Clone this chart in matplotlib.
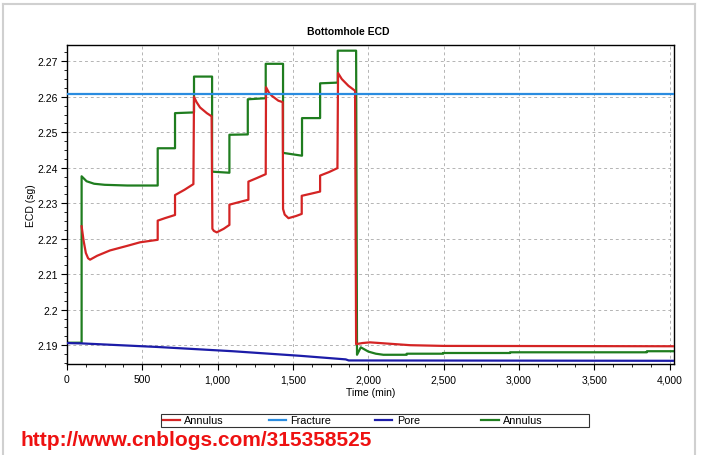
import matplotlib
matplotlib.use("Agg")
import matplotlib.pyplot as plt
from matplotlib.lines import Line2D
from matplotlib.ticker import MultipleLocator, FuncFormatter

# ---------------- data ----------------
title = "Bottomhole ECD"
x_label = "Time (min)"
y_label = "ECD (sg)"
legend_labels = ["Annulus", "Fracture", "Pore", "Annulus"]

# red annulus series
red_t = [97, 110, 125, 140, 153, 200, 285, 400, 485, 602, 602, 650, 717, 717, 780, 839,
         843, 860, 883, 928, 960, 965, 975, 994, 1040, 1078, 1078, 1140, 1204, 1204, 1260,
         1319, 1321, 1340, 1359, 1403, 1432, 1434, 1445, 1470, 1520, 1558, 1558, 1620, 1680,
         1680, 1740, 1795, 1799, 1824, 1868, 1912, 1919, 1960, 2011, 2145, 2278, 2500, 4029]
red_v = [2.2235, 2.2195, 2.2160, 2.2145, 2.2141, 2.2152, 2.2167, 2.2180, 2.2190, 2.2197,
         2.2251, 2.2258, 2.2267, 2.2323, 2.2338, 2.2354,
         2.2600, 2.2585, 2.2570, 2.2554, 2.2545, 2.2228, 2.2222, 2.2218, 2.2228, 2.2239,
         2.2296, 2.2303, 2.2310, 2.2361, 2.2371,
         2.2382, 2.2627, 2.2612, 2.2603, 2.2589, 2.2585, 2.2284, 2.2268, 2.2258, 2.2264,
         2.2270, 2.2321, 2.2327, 2.2333,
         2.2378, 2.2388, 2.2399, 2.2667, 2.2650, 2.2631, 2.2617, 2.1903, 2.1906, 2.1908,
         2.1904, 2.1900, 2.1898, 2.1897]

# fracture gradient
fracture_t = [0, 4029]
fracture_v = [2.2608, 2.2608]

# pore pressure
pore_t = [0, 100, 600, 1100, 1550, 1850, 1870, 4029]
pore_v = [2.1906, 2.1905, 2.1895, 2.1883, 2.1870, 2.1860, 2.1857, 2.1856]

# green annulus series
green_t = [0, 97, 97, 130, 180, 250, 400, 602, 602, 717, 717, 843, 843, 963, 963, 1078,
           1078, 1200, 1200, 1319, 1319, 1434, 1434, 1560, 1560, 1680, 1680, 1797, 1797,
           1919, 1925, 1950, 2000, 2050, 2100, 2255, 2255, 2497, 2497, 2941, 2941, 3849,
           3849, 4029]
green_v = [2.1907, 2.1907, 2.2376, 2.2362, 2.2355, 2.2352, 2.2350, 2.2350, 2.2455, 2.2455,
           2.2554, 2.2556, 2.2657, 2.2657, 2.2389, 2.2386,
           2.2493, 2.2494, 2.2593, 2.2596, 2.2693, 2.2693, 2.2442, 2.2434, 2.2540, 2.2540,
           2.2638, 2.2640, 2.2730,
           2.2730, 2.1873, 2.1894, 2.1882, 2.1876, 2.1873, 2.1873, 2.1876, 2.1876, 2.1878,
           2.1878, 2.1880, 2.1880,
           2.1883, 2.1883]

x_limits = (0, 4029)
y_limits = (2.1847, 2.2746)
watermark = "http://www.cnblogs.com/315358525"

# ---------------- style ----------------
plt.rcParams['font.family'] = ['Liberation Sans', 'DejaVu Sans']
RED = "#d42424"
FRAC = "#2a8ce0"
PORE = "#1c1ca8"
GREEN = "#1f7d1f"

W, H = 703, 456
fig = plt.figure(figsize=(W / 100, H / 100), dpi=100, facecolor="white")
ax = fig.add_axes([67 / W, 1 - 365 / H, (674 - 67) / W, (365 - 46) / H])

lw = 1.6
l1, = ax.plot(red_t, red_v, color=RED, lw=lw, zorder=3)
l2, = ax.plot(fracture_t, fracture_v, color=FRAC, lw=lw, zorder=4)
l3, = ax.plot(pore_t, pore_v, color=PORE, lw=lw, zorder=4)
l4, = ax.plot(green_t, green_v, color=GREEN, lw=lw, zorder=2)

ax.set_xlim(*x_limits)
ax.set_ylim(*y_limits)

ax.xaxis.set_major_locator(MultipleLocator(500))
ax.xaxis.set_minor_locator(MultipleLocator(125))
ax.yaxis.set_major_locator(MultipleLocator(0.01))
ax.yaxis.set_minor_locator(MultipleLocator(0.0025))
ax.xaxis.set_major_formatter(FuncFormatter(lambda v, p: f"{int(round(v)):,}"))
ax.yaxis.set_major_formatter(FuncFormatter(lambda v, p: f"{v:.2f}".rstrip('0').rstrip('.')))

ax.grid(True, which="major", color="#b4b4b4", linestyle=(0, (3, 3)), linewidth=0.7, zorder=0)
ax.tick_params(axis="both", which="major", direction="out", length=4, width=0.8,
               labelsize=7.5, pad=2.5, colors="black")
ax.tick_params(axis="both", which="minor", direction="out", length=2.5, width=0.6, colors="black")
ax.tick_params(axis="x", which="major", pad=3.5)
for s in ax.spines.values():
    s.set_linewidth(1.0)
    s.set_color("black")

ax.set_xlabel(x_label, fontsize=7.5, labelpad=2)
ax.set_ylabel(y_label, fontsize=7.5, labelpad=1)
fig.text(348 / W, 1 - 32 / H, title, fontsize=7.5, fontweight="bold", ha="center", va="center")

# legend under the plot, four equal-width columns
leg_w_px = 589 - 161
leg = fig.legend([l1, l2, l3, l4], legend_labels, loc="center",
                 bbox_to_anchor=(161 / W, 1 - 429 / H, leg_w_px / W, 15 / H),
                 ncol=4, frameon=True, fancybox=False, fontsize=7.8,
                 handlelength=1.6, handletextpad=0.4, borderpad=0.15, borderaxespad=0,
                 columnspacing=1.0)
hb = getattr(leg, "_legend_handle_box", None)
if hb is not None:
    pad_px = 2 * leg.borderpad * leg._fontsize * fig.dpi / 72.0
    hb.mode = "equal"
    hb.set_width(leg_w_px - pad_px)
leg.get_frame().set_edgecolor("black")
leg.get_frame().set_linewidth(0.8)

# outer window frame
frame_col = "#d0d0d0"
fig.add_artist(Line2D([3 / W, 3 / W], [0, 1 - 5 / H], transform=fig.transFigure, color=frame_col, lw=1.5))
fig.add_artist(Line2D([3 / W, 695 / W], [1 - 5 / H, 1 - 5 / H], transform=fig.transFigure, color=frame_col, lw=1.5))
fig.add_artist(Line2D([695 / W, 695 / W], [0, 1 - 5 / H], transform=fig.transFigure, color=frame_col, lw=1.5))

fig.text(20 / W, 1 - 446 / H, watermark, fontsize=15, fontweight="bold", color="#ee1111",
         ha="left", va="baseline")

fig.savefig("out.png", dpi=100, facecolor="white")
